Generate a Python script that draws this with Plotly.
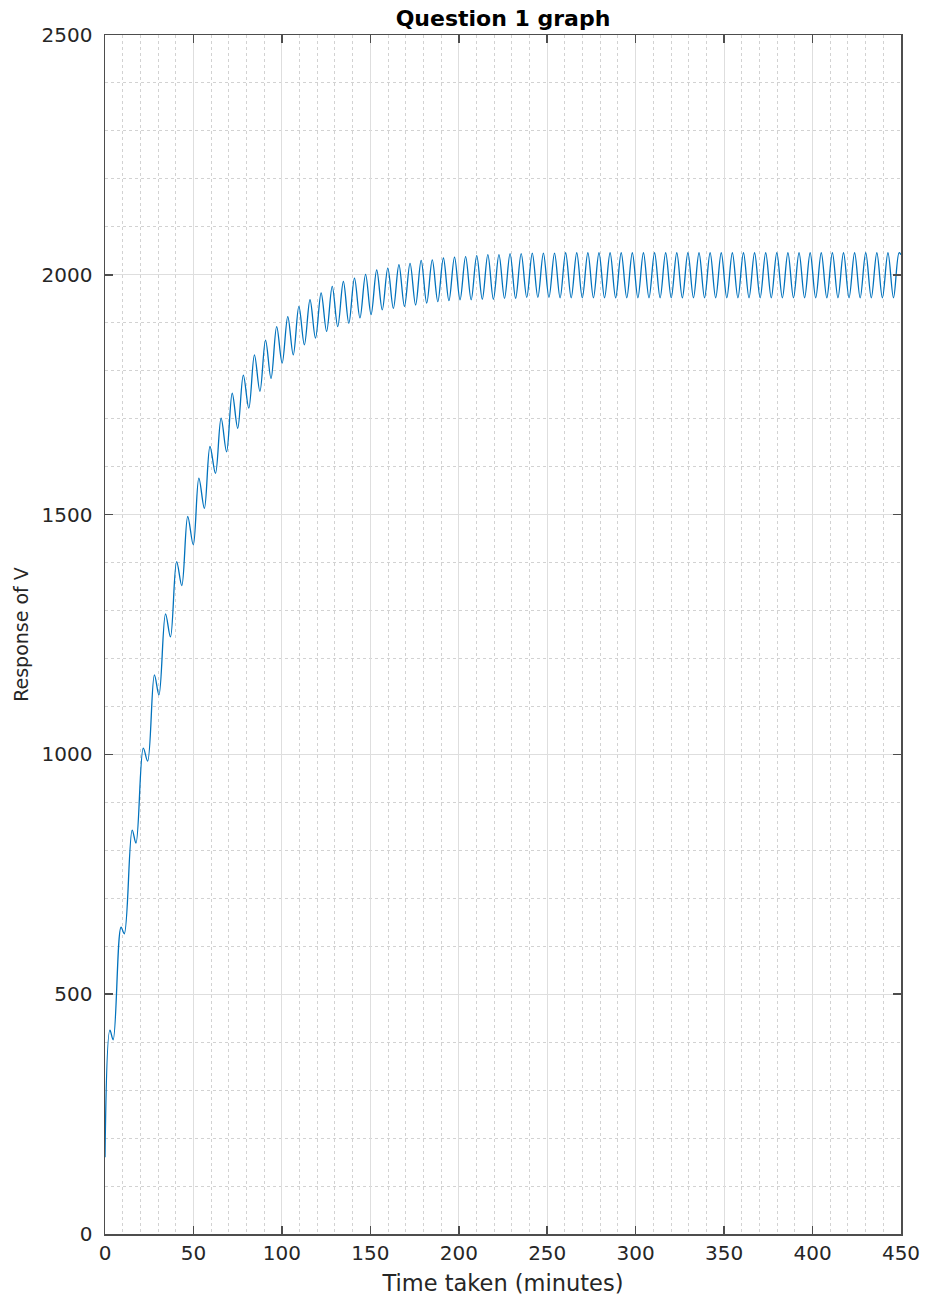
import plotly.graph_objects as go

# ---- data ----
start_t, start_v = 0.0, 160
end_t, end_v = 450.0, 2042

peak_t = [2.8, 9.08, 15.37, 21.65, 27.93, 34.22, 40.50, 46.78, 53.07, 59.35,
          65.63, 71.92, 78.20, 84.48, 90.76, 97.05, 103.33, 109.61, 115.90, 122.18,
          128.46, 134.75, 141.03, 147.31, 153.60, 159.88, 166.16, 172.45, 178.73, 185.01,
          191.30, 197.58, 203.86, 210.15, 216.43, 222.71, 228.99, 235.28, 241.56, 247.84,
          254.13, 260.41, 266.69, 272.98, 279.26, 285.54, 291.83, 298.11, 304.39, 310.68,
          316.96, 323.24, 329.53, 335.81, 342.09, 348.38, 354.66, 360.94, 367.22, 373.51,
          379.79, 386.07, 392.36, 398.64, 404.92, 411.21, 417.49, 423.77, 430.06, 436.34,
          442.62, 448.91]
peak_v = [425, 640, 842, 1013, 1166, 1293, 1402, 1496, 1576, 1642,
          1701, 1753, 1791, 1833, 1864, 1892, 1913, 1934, 1948, 1962,
          1976, 1986, 1993, 2001, 2010, 2014, 2021, 2024, 2030, 2031,
          2035, 2037, 2038, 2040, 2042, 2042, 2044, 2044, 2045, 2045,
          2045, 2046, 2046, 2046, 2046, 2046, 2046, 2046, 2046, 2046,
          2046, 2046, 2046, 2046, 2046, 2046, 2046, 2046, 2046, 2046,
          2046, 2046, 2046, 2046, 2046, 2046, 2046, 2046, 2046, 2046,
          2046, 2046]

trough_t = [4.6, 10.9, 17.5, 24.1, 30.5, 37.0, 43.4, 49.9, 56.17, 62.45,
            68.73, 75.02, 81.30, 87.58, 93.86, 100.15, 106.43, 112.71, 119.00, 125.28,
            131.56, 137.85, 144.13, 150.41, 156.74, 163.02, 169.30, 175.59, 181.87, 188.15,
            194.44, 200.72, 207.00, 213.29, 219.57, 225.85, 232.13, 238.42, 244.70, 250.98,
            257.27, 263.55, 269.83, 276.12, 282.40, 288.68, 294.97, 301.25, 307.53, 313.82,
            320.10, 326.38, 332.67, 338.95, 345.23, 351.52, 357.80, 364.08, 370.36, 376.65,
            382.93, 389.21, 395.50, 401.78, 408.06, 414.35, 420.63, 426.91, 433.20, 439.48,
            445.76]
trough_v = [405, 626, 815, 986, 1124, 1245, 1352, 1437, 1513, 1586,
            1631, 1680, 1722, 1757, 1784, 1816, 1833, 1854, 1868, 1882,
            1892, 1899, 1910, 1917, 1927, 1930, 1934, 1937, 1941, 1944,
            1946, 1948, 1948, 1949, 1949, 1951, 1951, 1953, 1953, 1953,
            1952, 1952, 1952, 1952, 1952, 1952, 1952, 1952, 1952, 1952,
            1952, 1952, 1952, 1952, 1952, 1952, 1952, 1952, 1952, 1952,
            1952, 1952, 1952, 1952, 1952, 1952, 1952, 1952, 1952, 1952,
            1952]

x_ticks = [0, 50, 100, 150, 200, 250, 300, 350, 400, 450]
y_ticks = [0, 500, 1000, 1500, 2000, 2500]

# interleave extremes in time order
pts = [(start_t, start_v)] + list(zip(peak_t, peak_v)) + list(zip(trough_t, trough_v)) + [(end_t, end_v)]
pts.sort(key=lambda p: p[0])
t = [p[0] for p in pts]
v = [p[1] for p in pts]

FONT = "DejaVu Sans"
fig = go.Figure()
fig.add_trace(go.Scatter(x=t, y=v, mode="lines",
                         line=dict(color="#0072BD", width=1.3, shape="spline", smoothing=1.0),
                         showlegend=False, hoverinfo="skip"))

axis_common = dict(
    showline=True, linecolor="#4d4d4d", linewidth=1.5, mirror="ticks",
    ticks="inside", ticklen=8, tickwidth=1.5, tickcolor="#4d4d4d",
    showgrid=True, gridcolor="#dedede", gridwidth=1,
    zeroline=False,
    tickfont=dict(family=FONT, size=20, color="#262626"),
)

fig.update_xaxes(range=[0, 450], tickvals=x_ticks, ticktext=[str(x) for x in x_ticks],
                 minor=dict(dtick=10, tick0=0, showgrid=True, griddash="dot", gridcolor="#d2d2d2", gridwidth=1),
                 title=dict(text="Time taken (minutes)", font=dict(family=FONT, size=22.5, color="#262626"), standoff=11),
                 ticklabelstandoff=0, ticklabeloverflow="allow",
                 **axis_common)
fig.update_yaxes(range=[0, 2500], tickvals=y_ticks, ticktext=[str(y) for y in y_ticks],
                 minor=dict(dtick=100, tick0=0, showgrid=True, griddash="dot", gridcolor="#d2d2d2", gridwidth=1),
                 title=dict(text="Response of V", font=dict(family=FONT, size=19, color="#262626"), standoff=8),
                 ticklabelstandoff=7,
                 **axis_common)

fig.update_layout(
    width=925, height=1298,
    margin=dict(l=105, r=24, t=35, b=64, autoexpand=False),
    paper_bgcolor="white", plot_bgcolor="white",
    title=dict(text="<b>Question 1 graph</b>", x=0.5, xref="paper", xanchor="center",
               y=1 - 18 / 1298, yref="container", yanchor="middle",
               font=dict(family=FONT, size=22, color="#000000")),
)

# remove the default 8px page margin so the figure fills the 925x1298 window exactly
fig.write_html("out.html", config={"displayModeBar": False, "staticPlot": True},
               post_script="document.body.style.margin='0px';")
